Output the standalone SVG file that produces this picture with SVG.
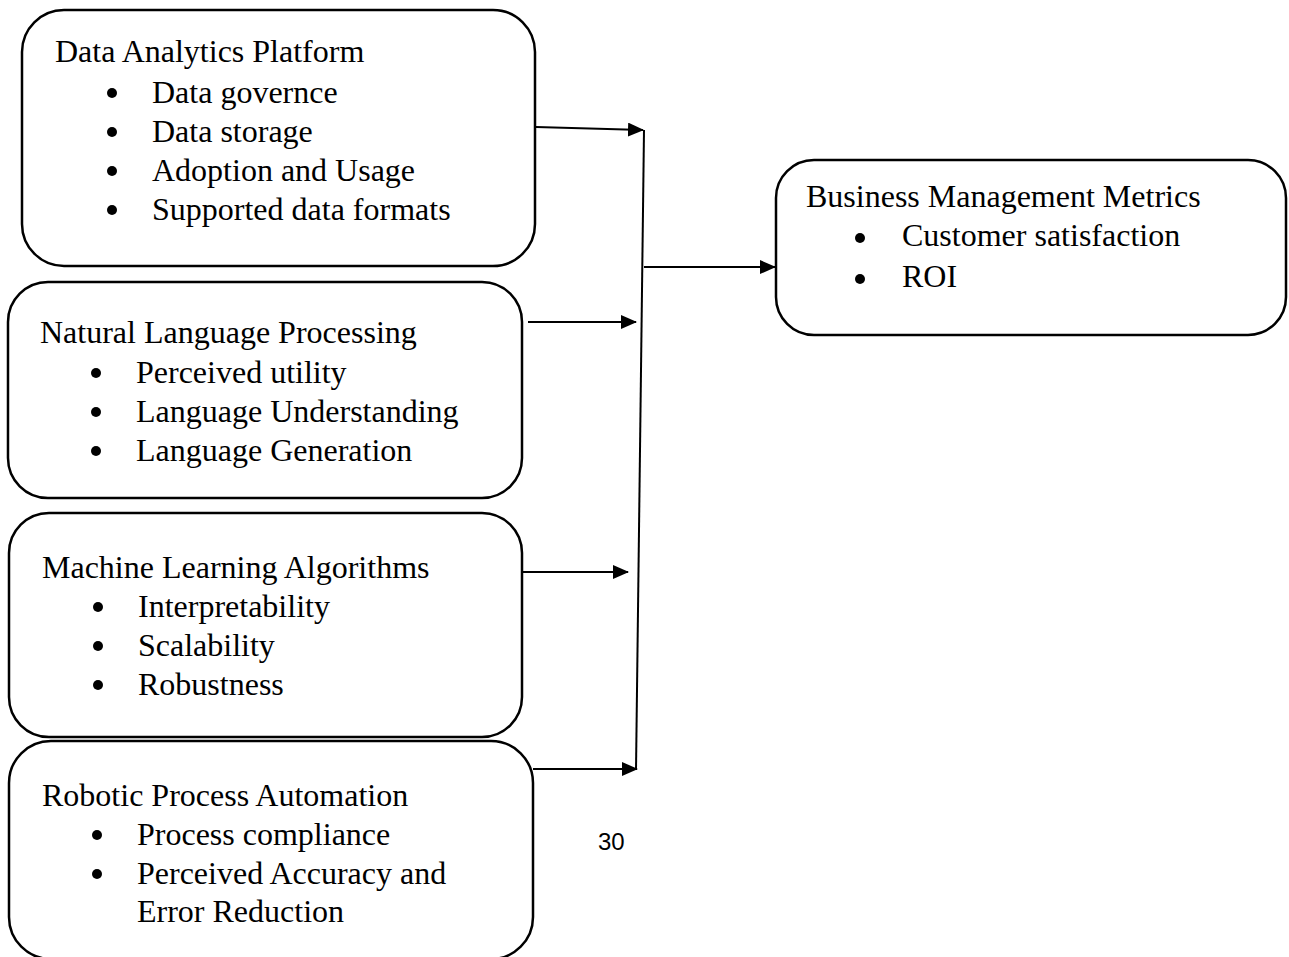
<svg xmlns="http://www.w3.org/2000/svg" width="1289" height="957" viewBox="0 0 1289 957">
<style>
.box{fill:#fff;stroke:#000;stroke-width:2.5}
.t{font-family:"Liberation Serif","Times New Roman",serif;font-size:32px;fill:#000}
.b{fill:#000}
.c{stroke:#000;stroke-width:2;fill:none}
.pg{font-family:"Liberation Sans",Arial,sans-serif;font-size:24px;fill:#000}
</style>
<defs>
<marker id="ah" markerWidth="16" markerHeight="14" refX="15" refY="7" orient="auto" markerUnits="userSpaceOnUse">
<path d="M0,0 L16,7 L0,14 Z" fill="#000"/>
</marker>
</defs>
<g id="n1">
<rect class="box" x="22" y="10" width="513" height="256" rx="42"/>
<text class="t" x="55" y="62">Data Analytics Platform</text>
<circle class="b" cx="112" cy="93" r="5"/><text class="t" x="152" y="103">Data governce</text>
<circle class="b" cx="112" cy="132" r="5"/><text class="t" x="152" y="142">Data storage</text>
<circle class="b" cx="112" cy="171" r="5"/><text class="t" x="152" y="181">Adoption and Usage</text>
<circle class="b" cx="112" cy="210" r="5"/><text class="t" x="152" y="220">Supported data formats</text>
</g>
<g id="n2">
<rect class="box" x="8" y="282" width="514" height="216" rx="40"/>
<text class="t" x="40" y="343">Natural Language Processing</text>
<circle class="b" cx="96" cy="373" r="5"/><text class="t" x="136" y="383">Perceived utility</text>
<circle class="b" cx="96" cy="412" r="5"/><text class="t" x="136" y="422">Language Understanding</text>
<circle class="b" cx="96" cy="451" r="5"/><text class="t" x="136" y="461">Language Generation</text>
</g>
<g id="n3">
<rect class="box" x="9" y="513" width="513" height="224" rx="40"/>
<text class="t" x="42" y="578">Machine Learning Algorithms</text>
<circle class="b" cx="98" cy="607" r="5"/><text class="t" x="138" y="617">Interpretability</text>
<circle class="b" cx="98" cy="646" r="5"/><text class="t" x="138" y="656">Scalability</text>
<circle class="b" cx="98" cy="685" r="5"/><text class="t" x="138" y="695">Robustness</text>
</g>
<g id="n4">
<rect class="box" x="9" y="741" width="524" height="218" rx="42"/>
<text class="t" x="42" y="806">Robotic Process Automation</text>
<circle class="b" cx="97" cy="835" r="5"/><text class="t" x="137" y="845">Process compliance</text>
<circle class="b" cx="97" cy="874" r="5"/><text class="t" x="137" y="884">Perceived Accuracy and</text>
<text class="t" x="137" y="922">Error Reduction</text>
</g>
<g id="n5">
<rect class="box" x="776" y="160" width="510" height="175" rx="38"/>
<text class="t" x="806" y="207">Business Management Metrics</text>
<circle class="b" cx="860" cy="238" r="5"/><text class="t" x="902" y="246">Customer satisfaction</text>
<circle class="b" cx="860" cy="279" r="5"/><text class="t" x="902" y="287">ROI</text>
</g>
<g id="connectors">
<line class="c" x1="536" y1="127" x2="643" y2="130" marker-end="url(#ah)"/>
<line class="c" x1="644" y1="130" x2="636" y2="770"/>
<line class="c" x1="644" y1="267" x2="775" y2="267" marker-end="url(#ah)"/>
<line class="c" x1="528" y1="322" x2="636" y2="322" marker-end="url(#ah)"/>
<line class="c" x1="523" y1="572" x2="628" y2="572" marker-end="url(#ah)"/>
<line class="c" x1="533" y1="769" x2="637" y2="769" marker-end="url(#ah)"/>
</g>
<text class="pg" x="598" y="850">30</text>
</svg>
